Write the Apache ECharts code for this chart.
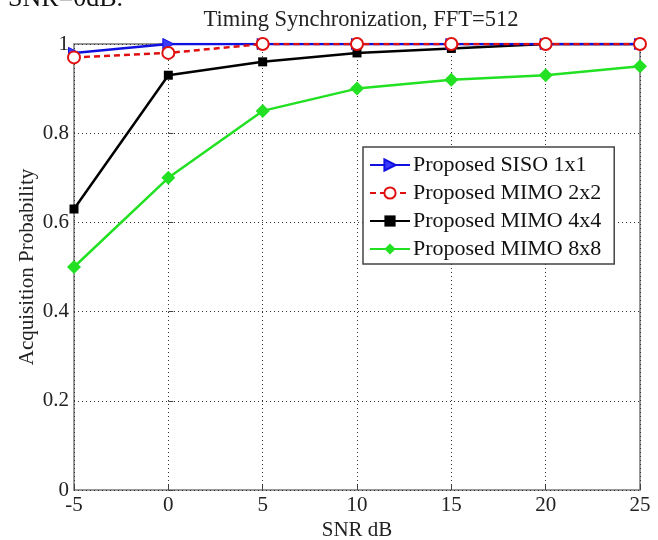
<!DOCTYPE html>
<html>
<head>
<meta charset="utf-8">
<style>
  html, body { margin: 0; padding: 0; background: #fff; }
  #main { width: 658px; height: 540px; }
</style>
<script src="https://cdn.jsdelivr.net/npm/echarts@6/dist/echarts.min.js"></script>
</head>
<body>
<div id="main"></div>
<script>
// SNR values (dB)
var snr = [-5, 0, 5, 10, 15, 20, 25];
// acquisition probability per scheme
var siso1x1 = [0.98, 1, 1, 1, 1, 1, 1];
var mimo2x2 = [0.97, 0.98, 1, 1, 1, 1, 1];
var mimo4x4 = [0.63, 0.93, 0.96, 0.98, 0.99, 1, 1];
var mimo8x8 = [0.5, 0.7, 0.85, 0.9, 0.92, 0.93, 0.95];

function pairs(ys) {
  return snr.map(function (x, i) { return [x, ys[i]]; });
}

var font = 'Liberation Serif';
var chart = echarts.init(document.getElementById('main'));

chart.setOption({
  animation: false,
  textStyle: { fontFamily: font },
  title: {
    text: 'Timing Synchronization, FFT=512',
    left: 356, top: 4, textAlign: 'center',
    textStyle: { fontFamily: font, fontSize: 22.5, fontWeight: 'normal', color: '#222' }
  },
  graphic: [{
    type: 'text', left: 8, top: -14,
    style: { text: 'SNR=0dB.', font: '26px "Liberation Serif"', fill: '#111' }
  }],
  grid: {
    left: 74, right: 18, top: 44, bottom: 50,
    outerBoundsMode: 'none',
    show: true, borderColor: '#777', borderWidth: 1.5
  },
  legend: {
    orient: 'vertical',
    left: 363, top: 147,
    padding: [7, 13, 4, 6],
    itemGap: 6,
    itemWidth: 40, itemHeight: 14,
    backgroundColor: '#fff',
    borderColor: '#444', borderWidth: 1.5,
    textStyle: { fontFamily: font, fontSize: 22, color: '#111', padding: [0, 0, 0, -2] },
    data: ['Proposed SISO 1x1', 'Proposed MIMO 2x2', 'Proposed MIMO 4x4', 'Proposed MIMO 8x8']
  },
  xAxis: {
    type: 'value', min: -5, max: 25, interval: 5,
    name: 'SNR dB', nameLocation: 'middle', nameGap: 40, nameMoveOverlap: false,
    nameTextStyle: { fontFamily: font, fontSize: 21, color: '#222', verticalAlign: 'middle' },
    axisLine: { show: false },
    axisTick: { show: true, inside: true, length: 5, lineStyle: { color: '#444' } },
    axisLabel: { fontFamily: font, fontSize: 21, color: '#222', margin: 5 },
    splitLine: { show: true, lineStyle: { color: '#333', type: [1, 3], width: 1 } }
  },
  yAxis: {
    type: 'value', min: 0, max: 1, interval: 0.2,
    name: 'Acquisition Probability', nameLocation: 'middle', nameGap: 47, nameMoveOverlap: false,
    nameTextStyle: { fontFamily: font, fontSize: 21, color: '#222', verticalAlign: 'middle' },
    axisLine: { show: false },
    axisTick: { show: true, inside: true, length: 5, lineStyle: { color: '#444' } },
    axisLabel: { fontFamily: font, fontSize: 21, color: '#222', margin: 5 },
    splitLine: { show: true, lineStyle: { color: '#333', type: [1, 3], width: 1 } }
  },
  series: [{
    name: 'Proposed SISO 1x1', type: 'line', data: pairs(siso1x1),
    symbol: 'triangle', symbolRotate: -90, symbolSize: 11,
    lineStyle: { color: '#1010e0', width: 2.5 },
    itemStyle: { color: '#3a3aff', borderColor: '#1010e0', borderWidth: 1 },
    z: 3
  }, {
    name: 'Proposed MIMO 2x2', type: 'line', data: pairs(mimo2x2),
    symbol: 'emptyCircle', symbolSize: 12,
    lineStyle: { color: '#e01010', width: 2.5, type: [6, 4] },
    itemStyle: { color: '#e01010', borderColor: '#e01010', borderWidth: 2.5 },
    z: 4
  }, {
    name: 'Proposed MIMO 4x4', type: 'line', data: pairs(mimo4x4),
    symbol: 'rect', symbolSize: 9,
    lineStyle: { color: '#000', width: 2.5 },
    itemStyle: { color: '#000' },
    z: 2
  }, {
    name: 'Proposed MIMO 8x8', type: 'line', data: pairs(mimo8x8),
    symbol: 'diamond', symbolSize: 14,
    lineStyle: { color: '#22e022', width: 2.5 },
    itemStyle: { color: '#22e022' },
    z: 1
  }]
});
</script>
</body>
</html>
